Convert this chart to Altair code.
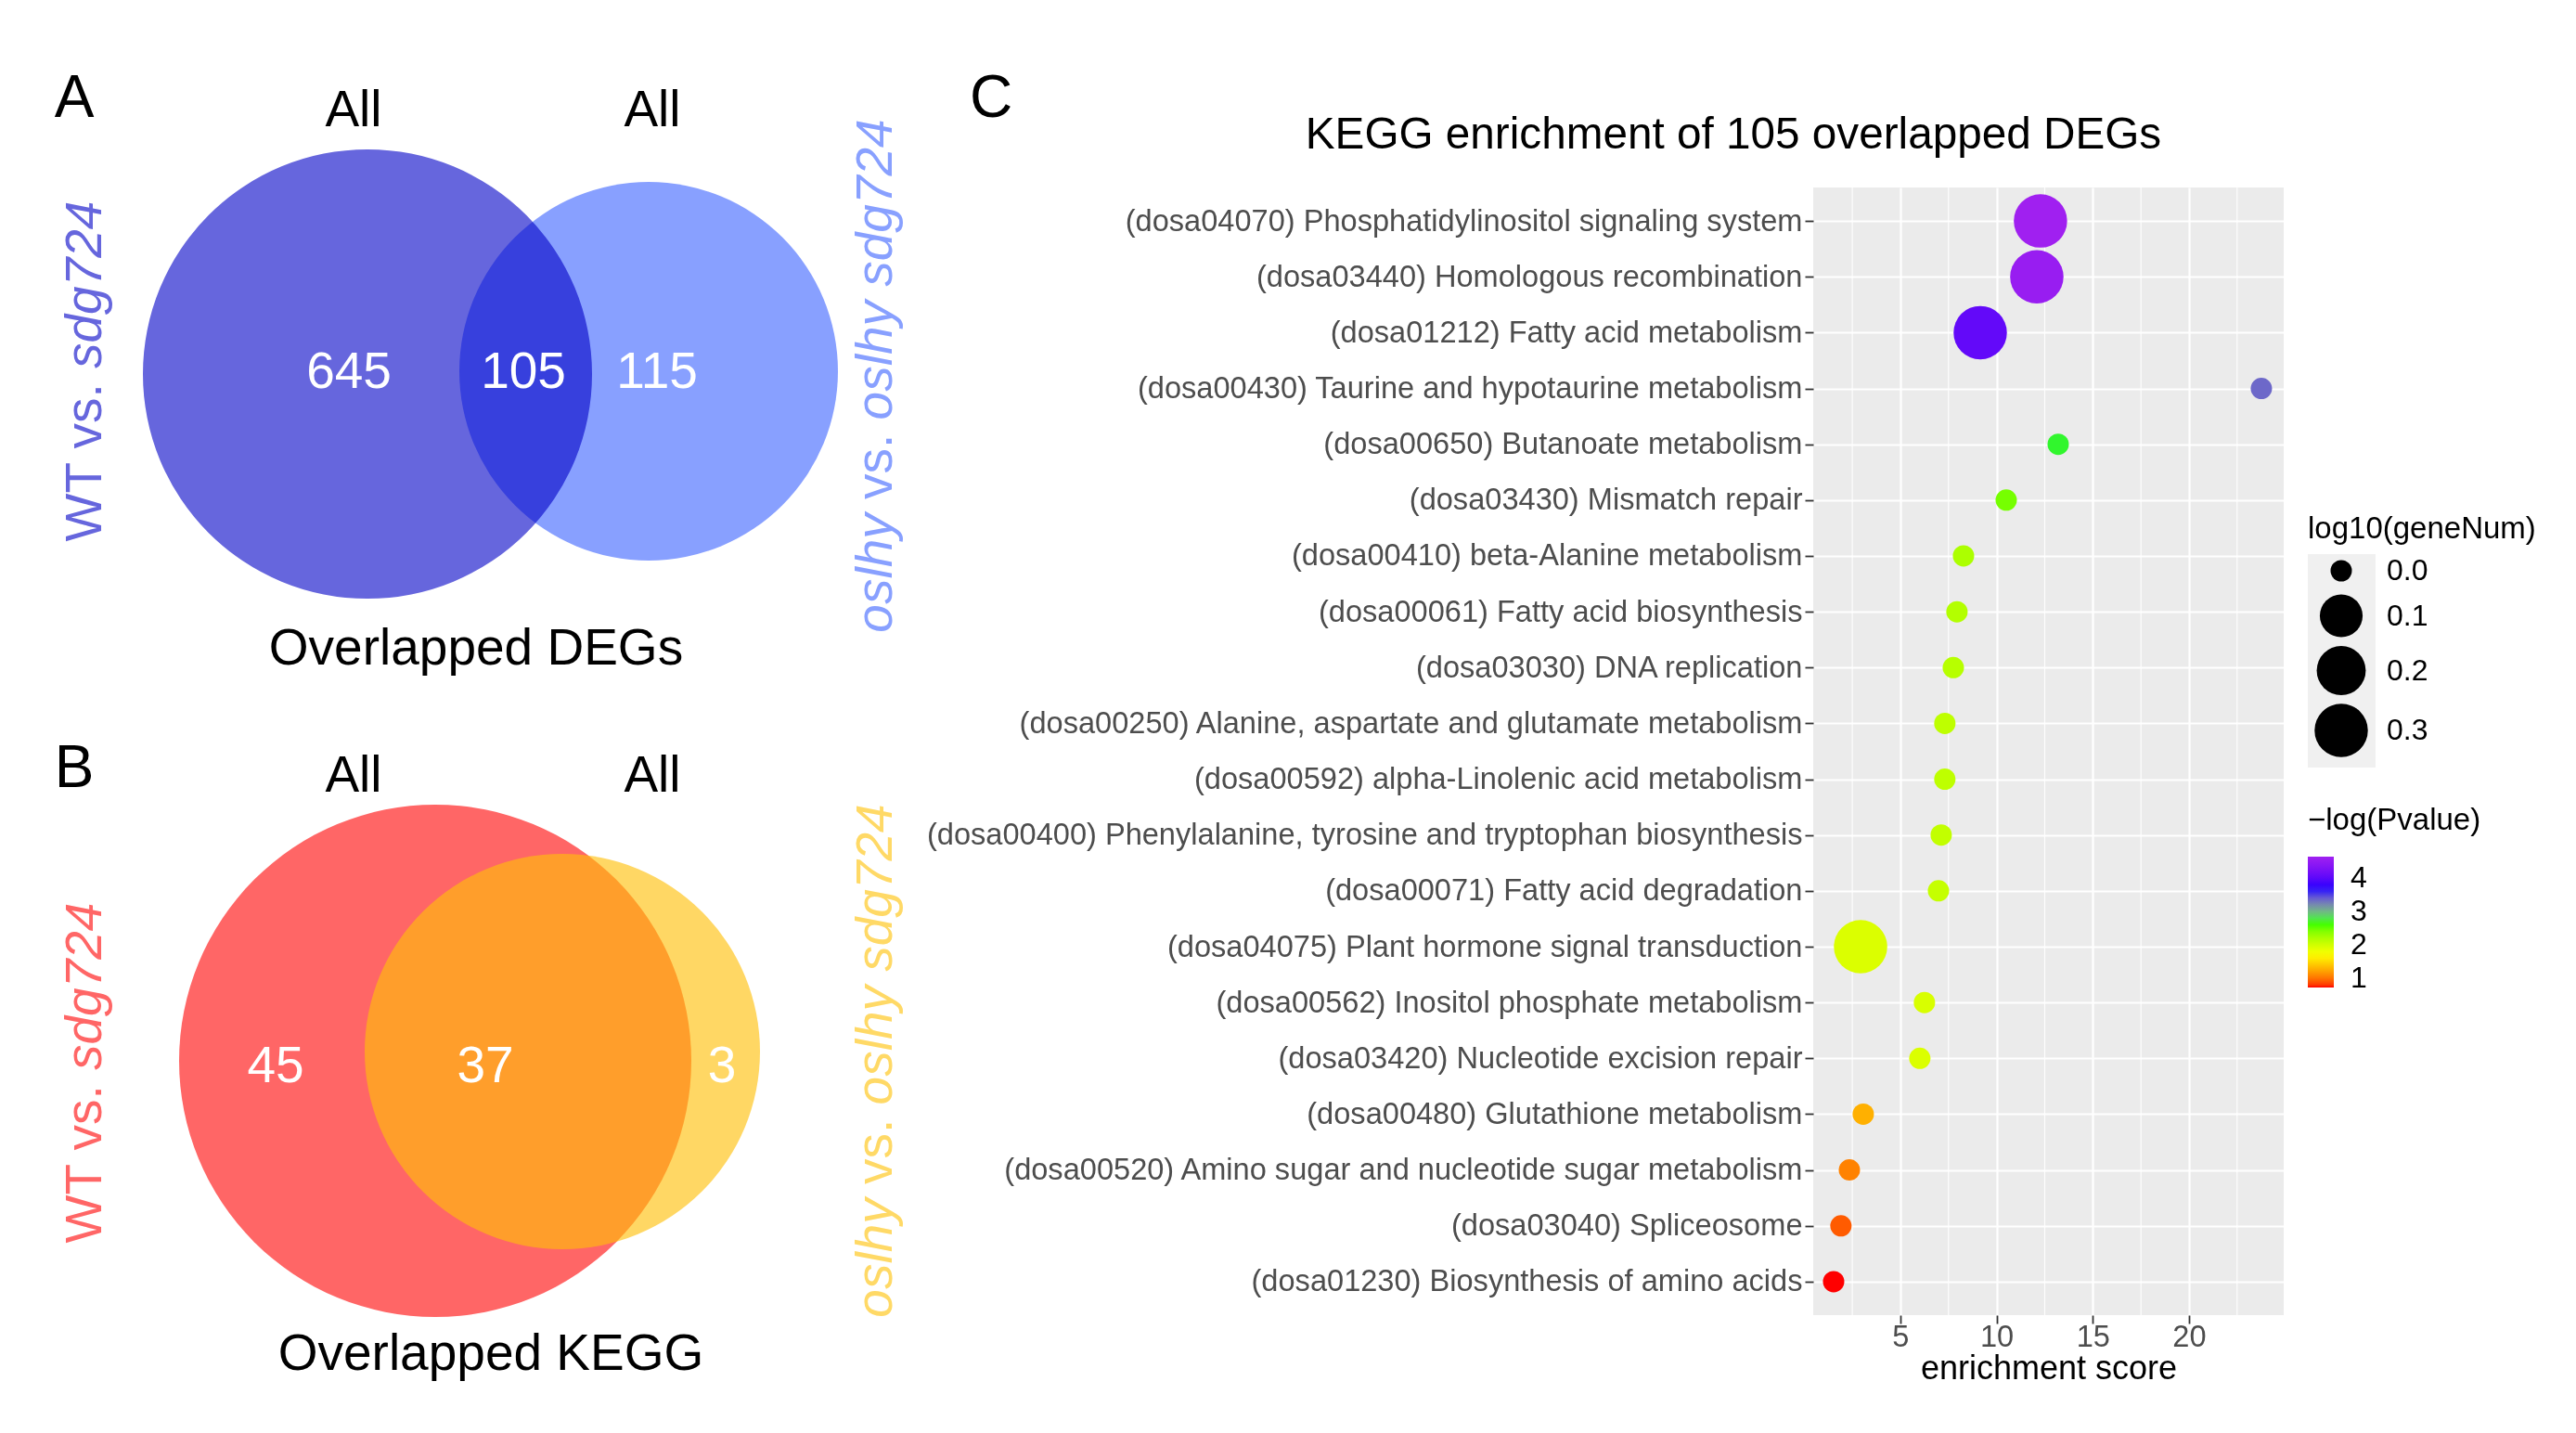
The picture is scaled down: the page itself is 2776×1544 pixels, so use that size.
import math
import altair as alt
import pandas as pd

# ---------------- data ----------------
pathways = [
    "(dosa04070) Phosphatidylinositol signaling system",
    "(dosa03440) Homologous recombination",
    "(dosa01212) Fatty acid metabolism",
    "(dosa00430) Taurine and hypotaurine metabolism",
    "(dosa00650) Butanoate metabolism",
    "(dosa03430) Mismatch repair",
    "(dosa00410) beta-Alanine metabolism",
    "(dosa00061) Fatty acid biosynthesis",
    "(dosa03030) DNA replication",
    "(dosa00250) Alanine, aspartate and glutamate metabolism",
    "(dosa00592) alpha-Linolenic acid metabolism",
    "(dosa00400) Phenylalanine, tyrosine and tryptophan biosynthesis",
    "(dosa00071) Fatty acid degradation",
    "(dosa04075) Plant hormone signal transduction",
    "(dosa00562) Inositol phosphate metabolism",
    "(dosa03420) Nucleotide excision repair",
    "(dosa00480) Glutathione metabolism",
    "(dosa00520) Amino sugar and nucleotide sugar metabolism",
    "(dosa03040) Spliceosome",
    "(dosa01230) Biosynthesis of amino acids",
]
enrichment_score = [12.28, 12.09, 9.15, 23.76, 13.2, 10.5, 8.28, 7.94, 7.75, 7.31,
                    7.31, 7.12, 6.98, 2.93, 6.25, 6.01, 3.07, 2.35, 1.91, 1.53]
neg_log_p = [4.64, 4.55, 4.05, 3.35, 2.72, 2.45, 2.20, 2.16, 2.14, 2.10,
             2.10, 2.08, 2.06, 1.93, 1.95, 1.93, 1.28, 1.06, 0.90, 0.72]
log10_gene_num = [0.30103, 0.30103, 0.30103, 0, 0, 0, 0, 0, 0, 0,
                  0, 0, 0, 0.30103, 0, 0, 0, 0, 0, 0]

deg_counts = [645, 105, 115]          # left only, overlap, right only
kegg_counts = [45, 37, 3]
venn_titles = ["Overlapped DEGs", "Overlapped KEGG"]
set_header = "All"
left_label = [("WT vs.", "normal"), ("sdg724", "italic")]
right_label = [("oslhy", "italic"), ("vs.", "normal"), ("oslhy sdg724", "italic")]
panel_letters = ["A", "B", "C"]
plot_title = "KEGG enrichment of 105 overlapped DEGs"

# ---------------- layout (page pixels) ----------------
PL, PT, PW, PH = 1954, 202, 507, 1215
FONT = "Liberation Sans"
VX = alt.Scale(domain=[PL, PL + PW], nice=False, zero=False)
VY = alt.Scale(domain=[PT, PT + PH], nice=False, zero=False, reverse=True)

EM = {'W': .944, 'T': .611, ' ': .278, 'v': .5, 's': .5, '.': .278, 'd': .556,
      'g': .556, '7': .556, '2': .556, '4': .556, 'o': .556, 'l': .222,
      'h': .556, 'y': .5}


def tw(s, fs):
    return sum(EM.get(c, .556) for c in s) * fs


rows = []


def add(text, x, y, size, color="black", style="normal", align="center", angle=0):
    rows.append(dict(text=text, x=x, y=y, size=size, color=color,
                     style=style, align=align, angle=angle))


def add_vertical(pieces, x, cy, fs, color):
    total = tw(" ".join(p for p, _ in pieces), fs)
    pos = cy + total / 2
    for p, st in pieces:
        add(p, x, pos, fs, color, st, "left", 270)
        pos -= tw(p + " ", fs)


VFS = 55
# panel A
add(panel_letters[0], 80, 107, 64)
add(set_header, 381, 119, VFS)
add(set_header, 703, 119, VFS)
for t, xx in zip(deg_counts, [376, 564, 708]):
    add(str(t), xx, 401, VFS, "white")
add(venn_titles[0], 513, 699, VFS)
add_vertical(left_label, 92, 400, VFS, "#6666DD")
add_vertical(right_label, 944, 405, VFS, "#88A0FF")
# panel B
add(panel_letters[1], 80, 829, 64)
add(set_header, 381, 836, VFS)
add(set_header, 703, 836, VFS)
for t, xx in zip(kegg_counts, [297, 523, 778]):
    add(str(t), xx, 1149, VFS, "white")
add(venn_titles[1], 529, 1459, VFS)
add_vertical(left_label, 92, 1156, VFS, "#FF6666")
add_vertical(right_label, 944, 1143, VFS, "#FFD966")
# panel C
add(panel_letters[2], 1068, 107, 64)
add(plot_title, 1868, 146, 47.7)

texts = pd.DataFrame(rows)

circles = pd.DataFrame({
    "cx": [396, 699, 469, 606],
    "cy": [403, 400, 1143, 1133],
    "r": [242, 204, 276, 213],
    "fill": ["#6666DD", "#88A0FF", "#FF6666", "#FFC00A"],
    "kind": ["base", "multiply", "base", "alpha"],
})
# Vega symbol size is the area of the bounding square: (2r)^2
circles["area"] = (2 * circles["r"]) ** 2


def circle_layer(kind, **mk):
    return alt.Chart(circles).transform_filter(alt.datum.kind == kind).mark_circle(
        opacity=mk.pop("opacity", 1), **mk).encode(
        x=alt.X("cx:Q", scale=VX, axis=None),
        y=alt.Y("cy:Q", scale=VY, axis=None),
        size=alt.Size("area:Q", scale=None),
        color=alt.Color("fill:N", scale=None),
    )


def text_layer(style, align):
    return alt.Chart(texts).transform_filter(
        (alt.datum.style == style) & (alt.datum.align == align)).mark_text(
        font=FONT, fontStyle=style, align=align, baseline="middle").encode(
        x=alt.X("x:Q", scale=VX, axis=None),
        y=alt.Y("y:Q", scale=VY, axis=None),
        text="text:N",
        size=alt.Size("size:Q", scale=None),
        color=alt.Color("color:N", scale=None),
        angle=alt.Angle("angle:Q", scale=None),
    )


venn = alt.layer(
    circle_layer("base"),
    circle_layer("multiply", blend="multiply"),
    circle_layer("alpha", opacity=0.63),
    text_layer("normal", "center"),
    text_layer("normal", "left"),
    text_layer("italic", "left"),
)

# ---------------- dot plot ----------------
dot_df = pd.DataFrame({
    "pathway": pathways,
    "score": enrichment_score,
    "nlp": neg_log_p,
    "gene": log10_gene_num,
})
XDOM = [0.47, 24.92]
LFS = 32.6

minor = alt.Chart(pd.DataFrame({"m": [2.5, 7.5, 12.5, 17.5, 22.5]})).mark_rule(
    color="white", strokeWidth=1.1).encode(
    x=alt.X("m:Q", scale=alt.Scale(domain=XDOM, nice=False, zero=False), axis=None))

key_bg = alt.Chart(pd.DataFrame({"a": [0]})).mark_rect(color="#F0F0F0").encode(
    x=alt.value(533), x2=alt.value(606), y=alt.value(395), y2=alt.value(625))

dots = alt.Chart(dot_df).mark_circle(opacity=1).encode(
    x=alt.X("score:Q", scale=alt.Scale(domain=XDOM, nice=False, zero=False),
            axis=alt.Axis(values=[5, 10, 15, 20], title="enrichment score",
                          grid=True, gridColor="white", gridWidth=2.2,
                          tickColor="#333333", tickSize=9, tickWidth=1.8,
                          labelFontSize=LFS, labelColor="#4D4D4D", labelFont=FONT,
                          labelPadding=-2, titleFont=FONT, titleFontSize=36,
                          titleFontWeight="normal", titleColor="black",
                          titlePadding=1, domain=False)),
    y=alt.Y("pathway:N", sort=pathways, scale=alt.Scale(padding=0.6),
            axis=alt.Axis(title=None, labelLimit=1500, grid=True, gridColor="white",
                          gridWidth=2.2, tickColor="#333333", tickSize=9,
                          tickWidth=1.8, labelFontSize=LFS, labelColor="#4D4D4D",
                          labelFont=FONT, labelPadding=3, domain=False)),
    size=alt.Size("gene:Q",
                  scale=alt.Scale(type="sqrt", domain=[0, 0.30103], range=[529, 3306]),
                  legend=alt.Legend(title="log10(geneNum)", values=[0, 0.1, 0.2, 0.3],
                                    format=".1f", orient="none", legendX=533, legendY=352,
                                    symbolFillColor="black", symbolStrokeWidth=0,
                                    symbolOpacity=1, symbolType="circle",
                                    symbolOffset=7, labelOffset=20, rowPadding=9,
                                    titlePadding=12, titleFontSize=33, titleFont=FONT,
                                    titleFontWeight="normal", titleColor="black",
                                    titleLimit=500, labelLimit=300,
                                    labelFontSize=32, labelFont=FONT, labelColor="black")),
    color=alt.Color("nlp:Q",
                    scale=alt.Scale(domain=[0.72, 1.70, 2.68, 3.66, 4.64],
                                    range=["#FF0000", "#FFFF00", "#00FF00", "#0000FF", "#A020F0"],
                                    interpolate="lab"),
                    legend=alt.Legend(title="\u2212log(Pvalue)", values=[1, 2, 3, 4],
                                      orient="none", legendX=533, legendY=666,
                                      direction="vertical", gradientLength=141,
                                      gradientThickness=28, labelOffset=18,
                                      titlePadding=22, titleFontSize=33, titleFont=FONT,
                                      titleFontWeight="normal", titleColor="black",
                                      titleLimit=500, labelLimit=300,
                                      labelFontSize=32, labelFont=FONT, labelColor="black",
                                      gradientStrokeWidth=0)),
)

chart = alt.layer(minor, key_bg, dots, venn).resolve_scale(
    x="independent", y="independent"
).properties(
    width=PW, height=PH,
    padding={"left": PL - 8, "top": PT - 8, "right": 300, "bottom": 100},
    autosize=alt.AutoSizeParams(type="none"),
).configure(font=FONT).configure_view(fill="#EBEBEB", strokeWidth=0)

chart.save("out.html", embed_options={"renderer": "svg", "actions": False})
